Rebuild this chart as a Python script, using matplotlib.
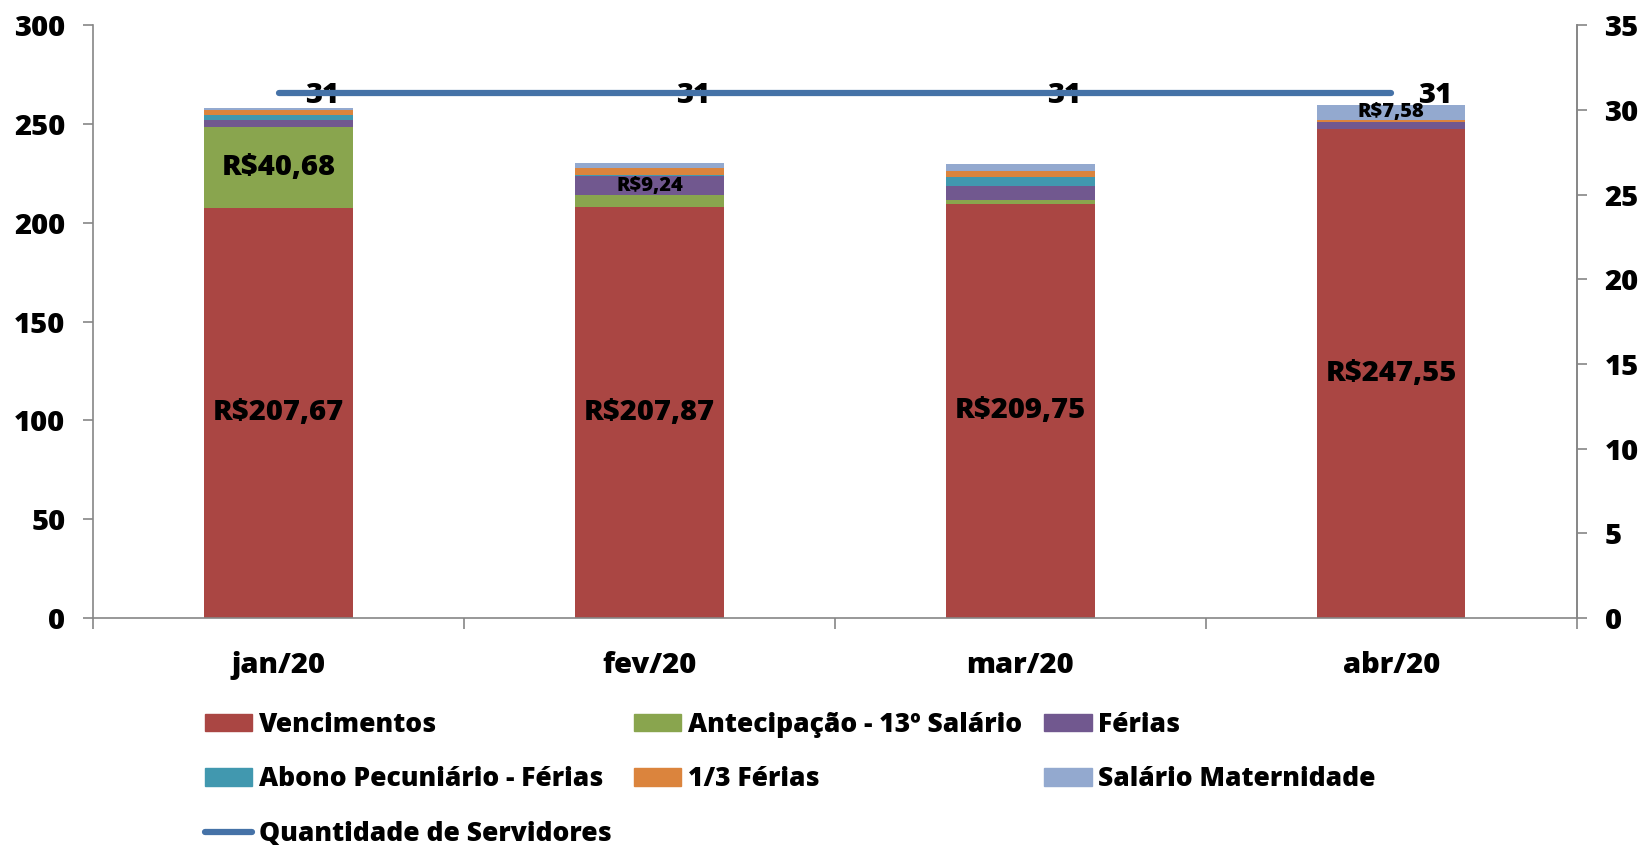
import matplotlib.pyplot as plt
import matplotlib.patches as mpatches
import matplotlib.lines as mlines
import numpy as np

plt.rcParams['font.family'] = ['Open Sans', 'DejaVu Sans']
plt.rcParams['font.weight'] = 'bold'

# Dados (valores em R$ mil)
meses = ['jan/20', 'fev/20', 'mar/20', 'abr/20']
vencimentos = [207.67, 207.87, 209.75, 247.55]
antecipacao = [40.68, 6.4, 1.7, 0.0]
ferias = [3.9, 9.24, 7.0, 3.6]
abono = [2.5, 1.0, 4.9, 0.0]
um_terco = [2.2, 3.2, 3.0, 1.2]
maternidade = [1.2, 2.5, 3.4, 7.58]
servidores = [31, 31, 31, 31]

series = [
    ('Vencimentos', vencimentos, '#AA4643'),
    ('Antecipação - 13º Salário', antecipacao, '#89A54E'),
    ('Férias', ferias, '#71588F'),
    ('Abono Pecuniário - Férias', abono, '#4198AF'),
    ('1/3 Férias', um_terco, '#DB843D'),
    ('Salário Maternidade', maternidade, '#93A9CF'),
]
# quais segmentos recebem rótulo (como no gráfico original)
rotulos = {
    'Vencimentos': [True, True, True, True],
    'Antecipação - 13º Salário': [True, False, False, False],
    'Férias': [False, True, False, False],
    'Salário Maternidade': [False, False, False, True],
}
tam_rotulo = {'Vencimentos': 21, 'Antecipação - 13º Salário': 21,
              'Férias': 14.5, 'Salário Maternidade': 14.5}

def fmt(v):
    return 'R$' + f'{v:.2f}'.replace('.', ',')

fig = plt.figure(figsize=(16.44, 8.46), dpi=100)
ax = fig.add_axes([0.0566, 0.2695, 0.9025, 0.7005])
x = np.arange(len(meses))
base = np.zeros(len(meses))
handles = {}
for nome, vals, cor in series:
    vals = np.array(vals)
    ax.bar(x, vals, 0.4, bottom=base, color=cor, edgecolor='none', zorder=2)
    handles[nome] = mpatches.Patch(color=cor)
    if nome in rotulos:
        for i, v in enumerate(vals):
            if rotulos[nome][i]:
                ax.text(x[i], base[i] + v / 2, fmt(v), ha='center', va='center',
                        fontsize=tam_rotulo[nome], fontweight='heavy', zorder=5)
    base += vals

ax.set_xlim(-0.5, len(meses) - 0.5)
ax.set_ylim(0, 300)
ax.set_yticks(np.arange(0, 301, 50))
ax.set_xticks(x)
ax.set_xticklabels(meses, fontweight='heavy')
ax.set_xticks(np.arange(-0.5, len(meses), 1), minor=True)
ax.tick_params(axis='x', which='major', length=0, pad=24, labelsize=21)
ax.tick_params(axis='x', which='minor', length=8, width=1.2, color='#868686', direction='out')
ax.tick_params(axis='y', length=7, width=1.2, color='#868686', pad=13, labelsize=21)
for t in ax.get_yticklabels():
    t.set_fontweight('heavy')
for s in ['left', 'bottom', 'right']:
    ax.spines[s].set_color('#868686')
    ax.spines[s].set_linewidth(1.2)
ax.spines['top'].set_visible(False)

ax2 = ax.twinx()
ax2.set_ylim(0, 35)
ax2.set_yticks(np.arange(0, 36, 5))
ax2.tick_params(axis='y', length=7, width=1.2, color='#868686', pad=13, labelsize=21)
for t in ax2.get_yticklabels():
    t.set_fontweight('heavy')
for s in ['top', 'left', 'bottom']:
    ax2.spines[s].set_visible(False)
ax2.spines['right'].set_color('#868686')
ax2.spines['right'].set_linewidth(1.2)
ax2.plot(x, servidores, color='#4572A7', lw=4.5, solid_capstyle='round', zorder=4)
for i, v in enumerate(servidores):
    ax2.annotate(str(v), (x[i], v), xytext=(19, -2), textcoords='offset points',
                 ha='left', va='center', fontsize=21, fontweight='heavy')

leg_line = mlines.Line2D([], [], color='#4572A7', lw=4.5, solid_capstyle='round')
blank = mpatches.Patch(color='none')
ordem = [
    (handles['Vencimentos'], 'Vencimentos'),
    (handles['Abono Pecuniário - Férias'], 'Abono Pecuniário - Férias'),
    (leg_line, 'Quantidade de Servidores'),
    (handles['Antecipação - 13º Salário'], 'Antecipação - 13º Salário'),
    (handles['1/3 Férias'], '1/3 Férias'),
    (blank, ''),
    (handles['Férias'], 'Férias'),
    (handles['Salário Maternidade'], 'Salário Maternidade'),
    (blank, ''),
]
fig.legend([h for h, _ in ordem], [l for _, l in ordem], ncol=3,
           loc='upper left', bbox_to_anchor=(0.118, 0.171), frameon=False,
           prop={'size': 19, 'weight': 'heavy'}, handlelength=1.8, handleheight=0.65,
           handletextpad=0.25, columnspacing=0.85, labelspacing=1.08, borderaxespad=0)

fig.savefig('out.png', dpi=100)
